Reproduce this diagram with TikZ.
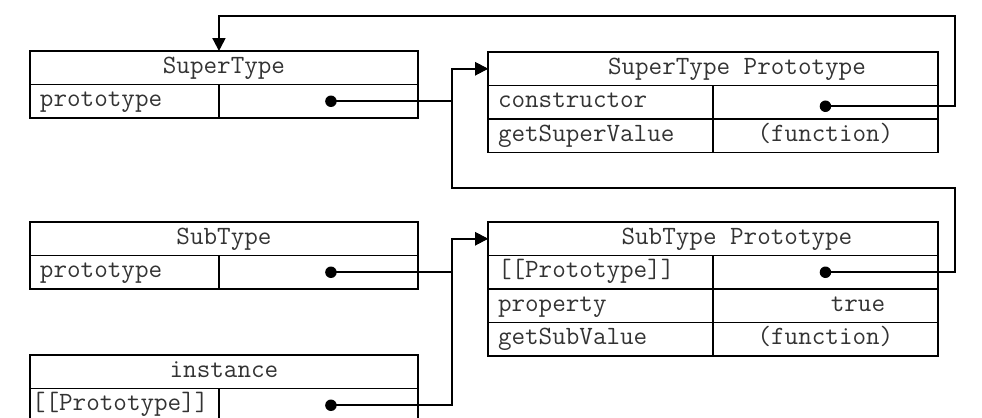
\documentclass[tikz,border=0pt]{standalone}
\usepackage{fontspec}
\usepackage{tikz}
\usetikzlibrary{calc}
\usetikzlibrary{arrows.meta,positioning}
\tikzset{>={Triangle[length=0.26cm,width=0.26cm]}}
\tikzset{
  cell/.style={draw, line width=1.1pt, anchor=north west, inner sep=0pt, outer sep=0pt,
    minimum height=0.67cm, text height=0.72em, text depth=0.12em,
    text=black!80, font=\ttfamily\fontsize{15}{18}\selectfont},
  head/.style={cell, minimum width=#1},
  key/.style={cell, inner xsep=0.2cm, text width=#1, align=left},
  val/.style={cell, minimum width=#1},
  dot/.style={circle, fill, inner sep=0pt, minimum size=0.23cm},
  link/.style={line width=1.1pt}
}

\begin{document}
\begin{tikzpicture}[x=0.02cm,y=-0.02cm]
  \useasboundingbox (0,0) rectangle (982,417);
  \node[head=7.76cm] (st) at (30,51) {SuperType};
  \node[key=3.38cm] (st-key) at (st.south west) {prototype};
  \node[val=3.98cm] (st-val) at (st-key.north east) {};
  \node[head=7.76cm] (sb) at (30,222) {SubType};
  \node[key=3.38cm] (sb-key) at (sb.south west) {prototype};
  \node[val=3.98cm] (sb-val) at (sb-key.north east) {};
  \node[head=7.76cm] (in) at (30,355) {instance};
  \node[key=3.7cm, inner xsep=0.04cm] (in-key) at (in.south west) {[[Prototype]]};
  \node[val=3.98cm] (in-val) at (in-key.north east) {};
  \node[head=9cm] (stp) at (488,52) {\hspace*{0.96cm}SuperType Prototype};
  \node[key=4.1cm] (stp-ctor) at (stp.south west) {constructor};
  \node[val=4.5cm] (stp-ctorval) at (stp-ctor.north east) {};
  \node[key=4.1cm] (stp-get) at (stp-ctor.south west) {getSuperValue};
  \node[val=4.5cm] (stp-getval) at (stp-get.north east) {(function)};
  \node[head=9cm] (sbp) at (488,222) {\hspace*{0.96cm}SubType Prototype};
  \node[key=4.1cm] (sbp-proto) at (sbp.south west) {[[Prototype]]};
  \node[val=4.5cm] (sbp-protoval) at (sbp-proto.north east) {};
  \node[key=4.1cm] (sbp-prop) at (sbp-proto.south west) {property};
  \node[val=4.5cm] (sbp-propval) at (sbp-prop.north east) {\hspace*{1.3cm}true};
  \node[key=4.1cm] (sbp-get) at (sbp-prop.south west) {getSubValue};
  \node[val=4.5cm] (sbp-getval) at (sbp-get.north east) {(function)};
  \node[dot, xshift=0.25cm] (st-dot) at (st-val.center) {};
  \node[dot, xshift=0.25cm] (sb-dot) at (sb-val.center) {};
  \node[dot, xshift=0.25cm] (in-dot) at (in-val.center) {};
  \node[dot, yshift=-0.08cm] (stp-dot) at (stp-ctorval.center) {};
  \node[dot] (sbp-dot) at (sbp-protoval.center) {};
  \coordinate (rt) at (955,16);
  \coordinate (rb) at (955,188);
  \coordinate (jb) at (452,188);
  \draw[link,->] (stp-dot.center) -| (rt) -| (st-key.north east |- st.north);
  \draw[link,->] (sbp-dot.center) -| (rb) -- (jb) |- (stp.west);
  \draw[link,->] (st-dot.center) -| (jb |- stp.west) -- (stp.west);
  \draw[link,->] (sb-dot.center) -| (jb |- sbp.west) -- (sbp.west);
  \draw[link,->] (in-dot.center) -| (jb |- sbp.west) -- (sbp.west);
\end{tikzpicture}
\end{document}
